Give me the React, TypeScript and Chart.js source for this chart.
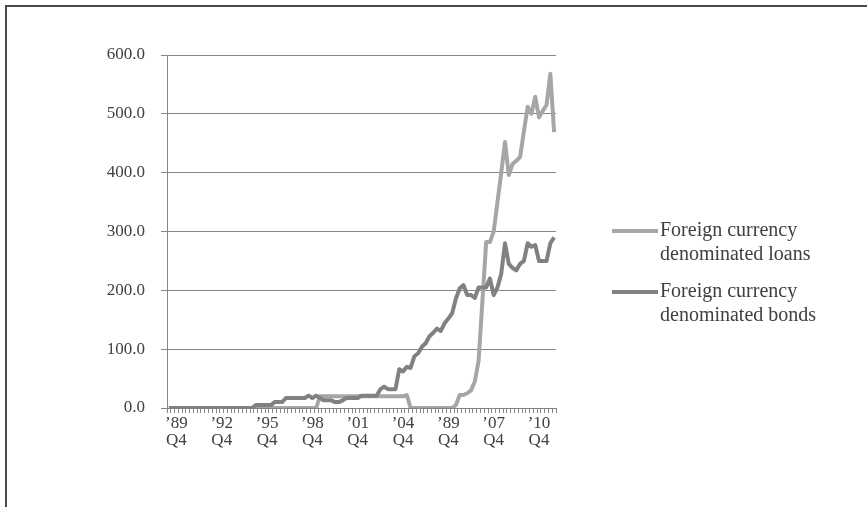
import React, { useEffect, useRef } from "react";
import { Chart, registerables } from "chart.js";

Chart.register(...registerables);

// Series values (billions), one value per quarter
const LOANS: number[] = [
  0, 0, 0, 0, 0, 0, 0, 0, 0, 0, 0, 0, 0, 0, 0, 0, 0, 0, 0, 0,
  0, 0, 0, 0, 0, 0, 0, 0, 0, 0, 0, 0, 0, 0, 0, 0, 0, 0, 0, 0,
  20, 20, 20, 20, 20, 20, 20, 20, 20, 20, 20, 20, 20, 20, 20, 20, 20, 20, 20, 20,
  20, 20, 20, 22,
  0, 0, 0, 0, 0, 0, 0, 0, 0, 0, 0, 0,
  5, 22, 22, 25, 30, 45, 80, 180, 282, 282, 300, 350, 400, 452, 396, 415, 420, 427,
  470, 512, 500, 529, 494, 505, 515, 568, 469,
];

const BONDS: number[] = [
  0, 0, 0, 0, 0, 0, 0, 0, 0, 0, 0, 0, 0, 0, 0, 0, 0, 0, 0, 0,
  0, 0, 0, 5, 5, 5, 5, 5, 10, 10, 10, 17, 17, 17, 17, 17, 17, 21, 17, 21,
  17, 13, 13, 13, 10, 10, 13, 17, 17, 17, 17, 21, 21, 21, 21, 21, 32, 36, 32, 32,
  32, 66, 62, 70, 68, 88, 93, 104, 110, 122, 128, 135, 131, 144, 152, 161, 186, 203, 209, 192,
  192, 187, 205, 205, 205, 220, 192, 205, 228, 280, 245, 238, 234, 245, 250, 280, 274, 277, 250, 250,
  250, 280, 290,
];

// Tick labels on the category axis
const TICK_YEARS: string[] = ["’89", "’92", "’95", "’98", "’01", "’04", "’89", "’07", "’10"];
const TICK_QUARTER = "Q4";
const FIRST_TICK_INDEX = 2;
const TICK_STEP = 12;

const SERIES_NAMES: string[][] = [
  ["Foreign currency", "denominated loans"],
  ["Foreign currency", "denominated bonds"],
];
const SERIES_COLORS: string[] = ["#a6a6a6", "#818181"];

const Y_MIN = 0;
const Y_MAX = 600;
const Y_STEP = 100;

const FONT = "'Liberation Serif', 'Times New Roman', serif";
const TEXT_COLOR = "#404040";
const GRID_COLOR = "#868686";

function tickLabelFor(i: number): string[] | string {
  const k = (i - FIRST_TICK_INDEX) / TICK_STEP;
  if (Number.isInteger(k) && k >= 0 && k < TICK_YEARS.length) {
    return [TICK_YEARS[k], TICK_QUARTER];
  }
  return "";
}

const CATEGORIES: string[] = LOANS.map((_, i) => {
  const t = tickLabelFor(i);
  return Array.isArray(t) ? t.join(" ") : "q" + i;
});

const legendPlugin = {
  id: "customLegend",
  afterDraw(chart: any) {
    const ctx = chart.ctx as CanvasRenderingContext2D;
    ctx.save();
    const rows = [231, 292];
    SERIES_NAMES.forEach((lines, s) => {
      const y = rows[s];
      ctx.strokeStyle = SERIES_COLORS[s];
      ctx.lineWidth = 4;
      ctx.lineCap = "butt";
      ctx.beginPath();
      ctx.moveTo(612, y);
      ctx.lineTo(658, y);
      ctx.stroke();
      ctx.fillStyle = TEXT_COLOR;
      ctx.font = `20px ${FONT}`;
      ctx.textBaseline = "middle";
      ctx.textAlign = "left";
      lines.forEach((ln, j) => {
        ctx.fillText(ln, 660, y + j * 24);
      });
    });
    ctx.restore();
  },
};

export default function App() {
  const canvasRef = useRef<HTMLCanvasElement | null>(null);

  useEffect(() => {
    const canvas = canvasRef.current;
    if (!canvas) return;
    const chart = new Chart(canvas, {
      type: "line",
      data: {
        labels: CATEGORIES,
        datasets: [
          {
            label: SERIES_NAMES[0].join(" "),
            data: LOANS,
            borderColor: SERIES_COLORS[0],
            backgroundColor: SERIES_COLORS[0],
            borderWidth: 4,
            pointRadius: 0,
            tension: 0,
            borderJoinStyle: "round",
            order: 1,
          },
          {
            label: SERIES_NAMES[1].join(" "),
            data: BONDS,
            borderColor: SERIES_COLORS[1],
            backgroundColor: SERIES_COLORS[1],
            borderWidth: 4,
            pointRadius: 0,
            tension: 0,
            borderJoinStyle: "round",
            order: 0,
          },
        ],
      },
      options: {
        animation: false,
        responsive: false,
        maintainAspectRatio: false,
        devicePixelRatio: 1,
        layout: { padding: { left: 0, top: 55, right: 311, bottom: 0 } },
        plugins: {
          legend: { display: false },
          tooltip: { enabled: false },
          title: { display: false },
        },
        scales: {
          x: {
            type: "category",
            offset: true,
            grid: {
              display: true,
              offset: true,
              drawOnChartArea: false,
              drawTicks: true,
              tickLength: 5,
              color: GRID_COLOR,
            },
            border: { display: true, color: GRID_COLOR, width: 1 },
            ticks: {
              autoSkip: false,
              maxRotation: 0,
              minRotation: 0,
              padding: 2,
              color: TEXT_COLOR,
              font: { family: FONT, size: 17, lineHeight: 1.0 },
              callback: (_v: any, i: number) => tickLabelFor(i),
            },
            afterFit: (scale: any) => {
              scale.height = 99;
            },
          },
          y: {
            min: Y_MIN,
            max: Y_MAX,
            grid: {
              display: true,
              color: GRID_COLOR,
              lineWidth: 1,
              drawTicks: true,
              tickLength: 6,
            },
            border: { display: true, color: GRID_COLOR, width: 1 },
            ticks: {
              stepSize: Y_STEP,
              padding: 16,
              color: TEXT_COLOR,
              font: { family: FONT, size: 17 },
              callback: (v: any) => Number(v).toFixed(1),
            },
            afterFit: (scale: any) => {
              scale.width = 167;
            },
          },
        },
      },
      plugins: [legendPlugin],
    });
    return () => chart.destroy();
  }, []);

  return (
    <div
      style={{
        position: "fixed",
        left: 0,
        top: 0,
        width: 867,
        height: 507,
        overflow: "hidden",
        background: "#ffffff",
      }}
    >
      <canvas ref={canvasRef} width={867} height={507} style={{ display: "block" }} />
      <div
        style={{
          position: "absolute",
          left: 5,
          top: 5,
          width: 900,
          height: 540,
          borderTop: "2px solid #4a4a4a",
          borderLeft: "2px solid #4a4a4a",
          pointerEvents: "none",
        }}
      />
    </div>
  );
}
